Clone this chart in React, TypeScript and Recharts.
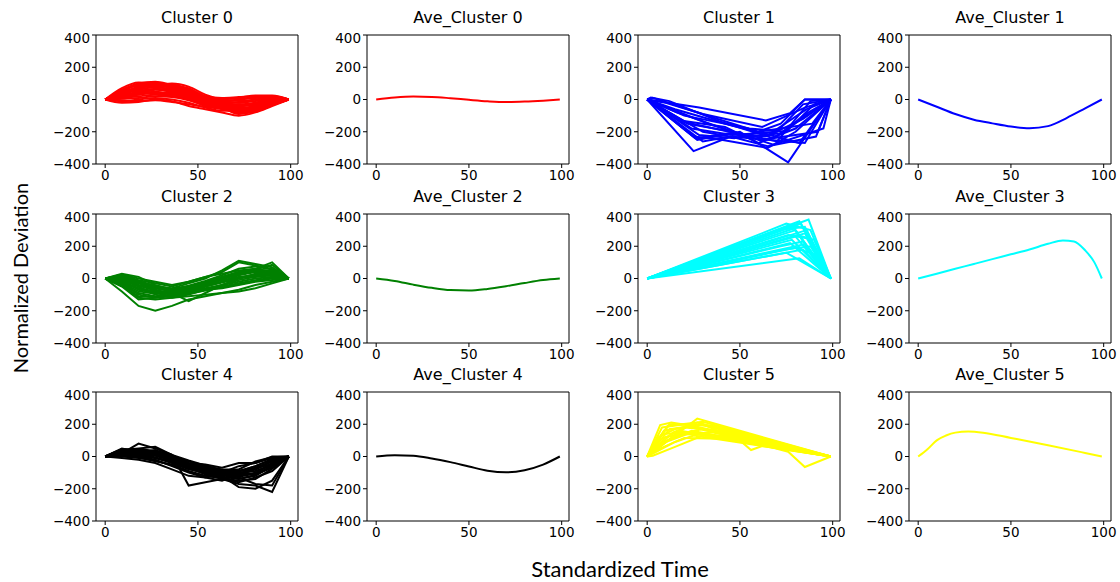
import React from "react";
import { LineChart, Line, XAxis, YAxis, ReferenceArea } from "recharts";

// shared x grid for the wavy clusters
const X_GRID = [0, 9, 18, 27, 36, 45, 54, 63, 72, 81, 90, 99];
const AVE_X = [0, 10, 20, 30, 40, 50, 60, 70, 80, 90, 99];
const Y_TICKS = [-400, -200, 0, 200, 400];
const X_TICKS = [0, 50, 100];

const CLUSTER0_LINES = [
  [0, 60, 100, 110, 90, 70, 20, 10, 15, 20, 20, 0],
  [0, 40, 80, 100, 95, 60, 10, -10, 0, 10, 15, 0],
  [0, -20, -15, 0, -10, -40, -60, -80, -100, -80, -40, 0],
  [0, 20, 40, 60, 50, 20, -20, -40, -60, -40, -10, 0],
  [0, 50, 90, 80, 60, 40, 0, -20, -30, -20, 0, 0],
  [0, 10, 20, 30, 20, 0, -40, -60, -80, -60, -20, 0],
  [0, 70, 105, 100, 70, 45, 5, 0, 10, 25, 25, 0],
  [0, 30, 60, 50, 30, 10, -30, -50, -90, -70, -30, 0],
  [0, -10, 0, 10, 0, -20, -50, -70, -60, -40, -20, 0],
  [0, 45, 70, 90, 100, 80, 30, 0, -10, 0, 10, 0],
  [0, 35, 55, 40, 20, 5, -15, -30, -40, -30, -10, 0],
  [0, 55, 85, 70, 45, 25, -10, -25, -50, -55, -25, 0],
  [0, -5, -10, -5, -15, -30, -45, -55, -70, -65, -30, 0],
  [0, 25, 45, 35, 25, 0, -30, -45, -45, -20, 5, 0],
  [0, 30, 70, 90, 80, 55, 15, -15, -40, -35, -10, 0],
  [0, 15, 35, 45, 40, 15, -25, -45, -70, -50, -15, 0],
  [0, 50, 95, 105, 85, 50, 0, -15, -20, 0, 15, 0],
  [0, 5, 10, 20, 15, -5, -35, -55, -75, -70, -35, 0],
  [0, 40, 65, 75, 65, 35, -5, -30, -55, -45, -20, 0],
  [0, 60, 90, 95, 75, 55, 15, -5, -20, -10, 5, 0],
  [0, 20, 50, 65, 55, 30, -10, -35, -65, -60, -25, 0],
  [0, 35, 80, 95, 90, 65, 20, 5, 5, 15, 20, 0],
  [0, 10, 30, 40, 35, 10, -25, -40, -85, -75, -35, 0],
  [0, 45, 75, 85, 70, 40, 5, -20, -35, -25, -5, 0],
];

const CLUSTER1_LINES = [
  [[0, 0], [25, -320], [45, -230], [85, -270], [99, 0]],
  [[0, 0], [27, -250], [50, -200], [76, -390], [99, 0]],
  [[0, 0], [28, -50], [64, -130], [77, -85], [85, 0], [99, 0]],
  [[0, 0], [10, -20], [30, -90], [62, -170], [85, -50], [99, 0]],
  [[0, 0], [30, -260], [45, -230], [65, -290], [91, -230], [99, 0]],
  [[0, 0], [22, -150], [46, -200], [70, -260], [88, -10], [99, 0]],
  [[0, 0], [3, 10], [35, -110], [60, -200], [82, -270], [99, 0]],
  [[0, 0], [25, -230], [40, -250], [65, -300], [80, -200], [99, 0]],
  [[0, 0], [20, -100], [55, -180], [75, -200], [90, -30], [99, 0]],
  [[0, 0], [2, 12], [12, -10], [40, -140], [68, -240], [86, -100], [99, 0]],
  [[0, 0], [30, -200], [50, -240], [72, -150], [85, 0], [99, 0]],
  [[0, 0], [18, -130], [42, -170], [60, -270], [80, -180], [99, 0]],
  [[0, 0], [26, -240], [44, -210], [62, -250], [92, -200], [99, 0]],
  [[0, 0], [15, -60], [45, -160], [66, -220], [84, -120], [99, 0]],
  [[0, 0], [20, -140], [48, -210], [64, -230], [86, -60], [99, 0]],
  [[0, 0], [24, -180], [46, -220], [70, -200], [84, -30], [99, 0]],
  [[0, 0], [28, -220], [47, -240], [60, -200], [89, -150], [99, 0]],
  [[0, 0], [16, -80], [44, -190], [68, -280], [95, -180], [99, 0]],
  [[0, 0], [33, -150], [54, -230], [72, -210], [87, -80], [99, 0]],
];

const CLUSTER2_LINES = [
  [0, 20, -10, -30, -50, -20, 10, 40, 100, 80, 60, 0],
  [0, -80, -170, -200, -170, -130, -110, -90, -70, -40, -20, 0],
  [0, 30, 10, -40, -70, -50, -20, 10, 40, 60, 100, 0],
  [0, -40, -120, -130, -120, -110, -100, -90, -80, -60, -30, 0],
  [0, -20, -60, -80, -90, -140, -90, -40, 0, 30, 40, 0],
  [0, 10, -30, -60, -80, -60, -30, 0, 30, 50, 50, 0],
  [0, -10, -50, -100, -120, -100, -70, -40, -10, 10, 20, 0],
  [0, 15, -20, -50, -60, -30, 0, 50, 110, 90, 70, 0],
  [0, -30, -90, -110, -100, -80, -60, -40, -20, 0, 10, 0],
  [0, 25, 0, -20, -40, -20, 10, 30, 50, 60, 40, 0],
  [0, -50, -130, -120, -100, -90, -70, -60, -40, -20, -10, 0],
  [0, 5, -40, -70, -100, -90, -50, -20, 20, 40, 30, 0],
  [0, -15, -70, -90, -110, -70, -40, -10, 10, 20, 15, 0],
  [0, -5, -40, -60, -75, -55, -25, 10, 40, 55, 45, 0],
  [0, -25, -80, -95, -90, -70, -45, -20, 5, 25, 20, 0],
  [0, 20, -15, -45, -65, -45, -15, 20, 60, 75, 55, 0],
  [0, -35, -100, -120, -110, -95, -75, -55, -35, -15, 0, 0],
  [0, 10, -25, -55, -70, -50, -20, 5, 35, 55, 85, 0],
  [0, -20, -60, -85, -95, -75, -50, -25, 0, 15, 25, 0],
  [0, 0, -45, -75, -85, -65, -35, -5, 25, 45, 35, 0],
  [0, -45, -110, -115, -105, -85, -65, -50, -30, -10, 5, 0],
];

const CLUSTER3_LINES = [
  [[0, 0], [87, 365], [99, 0]],
  [[0, 0], [82, 355], [99, 0]],
  [[0, 0], [75, 340], [88, 300], [99, 0]],
  [[0, 0], [70, 300], [85, 320], [99, 0]],
  [[0, 0], [80, 300], [99, 0]],
  [[0, 0], [76, 270], [86, 250], [99, 0]],
  [[0, 0], [78, 240], [99, 0]],
  [[0, 0], [72, 200], [84, 230], [99, 0]],
  [[0, 0], [84, 210], [99, 0]],
  [[0, 0], [75, 160], [99, 0]],
  [[0, 0], [82, 125], [99, 0]],
  [[0, 0], [80, 190], [90, 150], [99, 0]],
  [[0, 0], [85, 280], [99, 0]],
  [[0, 0], [78, 330], [99, 0]],
  [[0, 0], [80, 260], [99, 0]],
  [[0, 0], [83, 340], [99, 0]],
  [[0, 0], [77, 220], [99, 0]],
  [[0, 0], [86, 300], [99, 0]],
  [[0, 0], [74, 180], [88, 200], [99, 0]],
  [[0, 0], [81, 270], [90, 240], [99, 0]],
  [[0, 0], [79, 310], [99, 0]],
  [[0, 0], [84, 180], [99, 0]],
];

const CLUSTER4_LINES = [
  [0, 45, 40, 30, 0, -40, -50, -70, -40, -40, -10, 0],
  [0, 20, 80, 50, 10, -180, -160, -140, -170, -180, -220, 0],
  [0, 30, 20, 40, 0, -60, -90, -120, -190, -200, -150, 0],
  [0, 10, 0, -20, -60, -100, -130, -150, -110, -80, -30, 0],
  [0, 40, 50, 60, 10, -50, -70, -100, -130, -170, -180, 0],
  [0, 20, 10, -10, -40, -80, -100, -120, -90, -60, -20, 0],
  [0, 50, 30, 10, -20, -60, -80, -100, -60, -40, 0, 0],
  [0, -10, -20, -40, -80, -120, -130, -110, -140, -120, -60, 0],
  [0, 35, 25, 20, -10, -40, -60, -80, -80, -30, -5, 0],
  [0, 15, 5, -10, -30, -70, -110, -140, -160, -130, -90, 0],
  [0, 25, 30, 25, 5, -30, -70, -90, -100, -110, -70, 0],
  [0, 5, -5, -30, -50, -90, -120, -130, -120, -100, -50, 0],
  [0, 30, 35, 20, -5, -45, -70, -95, -100, -90, -50, 0],
  [0, 20, 15, 5, -25, -65, -95, -115, -125, -105, -40, 0],
  [0, 40, 30, 15, -15, -55, -75, -105, -115, -80, -25, 0],
  [0, 10, 10, -5, -35, -75, -105, -125, -140, -115, -55, 0],
  [0, 45, 35, 25, -5, -45, -65, -90, -95, -60, -15, 0],
  [0, 25, 20, 10, -20, -60, -85, -110, -105, -70, -30, 0],
  [0, 0, -10, -25, -55, -95, -120, -135, -150, -140, -75, 0],
  [0, 35, 45, 35, 10, -25, -55, -85, -90, -75, -45, 0],
];

const CLUSTER5_LINES = [
  [[0, 0], [7, 195], [13, 210], [25, 190], [99, 0]],
  [[0, 0], [27, 235], [99, 0]],
  [[0, 0], [5, 40], [20, 115], [40, 110], [99, 0]],
  [[0, 0], [12, 170], [30, 200], [50, 100], [56, 40], [62, 65], [99, 0]],
  [[0, 0], [8, 180], [20, 200], [76, 30], [85, -65], [99, 0]],
  [[0, 0], [15, 90], [25, 130], [99, 0]],
  [[0, 0], [10, 120], [30, 170], [99, 0]],
  [[0, 0], [6, 100], [18, 160], [99, 0]],
  [[0, 0], [3, 5], [15, 60], [30, 130], [99, 0]],
  [[0, 0], [12, 200], [35, 190], [99, 0]],
  [[0, 0], [20, 180], [40, 160], [99, 0]],
  [[0, 0], [8, 140], [25, 150], [99, 0]],
  [[0, 0], [9, 160], [22, 185], [99, 0]],
  [[0, 0], [6, 120], [15, 170], [28, 200], [99, 0]],
  [[0, 0], [10, 90], [22, 140], [35, 150], [99, 0]],
  [[0, 0], [14, 150], [27, 210], [99, 0]],
  [[0, 0], [4, 60], [18, 140], [45, 125], [99, 0]],
  [[0, 0], [11, 190], [30, 215], [99, 0]],
  [[0, 0], [7, 80], [24, 160], [99, 0]],
];

const AVE0 = [0, 12, 18, 16, 8, -2, -11, -16, -13, -7, 0];
const AVE1 = [0, -45, -90, -125, -148, -168, -178, -165, -115, -55, 0];
const AVE2 = [0, -15, -38, -58, -72, -75, -65, -48, -28, -10, 0];
const AVE3 = [[0, 0], [10, 30], [20, 60], [30, 90], [40, 120], [50, 150], [60, 180], [70, 215], [78, 236], [84, 230], [90, 175], [95, 100], [99, 0]];
const AVE4 = [0, 8, 5, -12, -35, -62, -88, -98, -85, -50, 0];
const AVE5 = [[0, 0], [5, 45], [10, 100], [15, 130], [20, 148], [27, 155], [35, 148], [50, 115], [70, 70], [90, 22], [99, 0]];

const gridPts = (xs: number[], ys: number[]) => xs.map((x, i) => ({ x, y: ys[i] }));
const pairPts = (pairs: number[][]) => pairs.map(([x, y]) => ({ x, y }));

const COL_LEFT = [96, 367, 638, 909];
const ROW_TOP = [35, 213.5, 392];
const BOX_W = 202;
const BOX_H = 129;
const AXIS_W = 62;

const FONT = "'DejaVu Sans', sans-serif";
const minus = (v: number) => String(v).replace("-", "\u2212");

type PanelProps = {
  title: string;
  color: string;
  series: { x: number; y: number }[][];
  curve: "linear" | "monotone";
  left: number;
  top: number;
};

function Panel({ title, color, series, curve, left, top }: PanelProps) {
  return (
    <div style={{ position: "absolute", left: left - AXIS_W, top: top - 5 }}>
      <div
        style={{
          position: "absolute",
          left: AXIS_W,
          width: BOX_W,
          top: -22,
          textAlign: "center",
          fontSize: 16,
          lineHeight: "19px",
          fontFamily: FONT,
        }}
      >
        {title}
      </div>
      <LineChart width={AXIS_W + BOX_W + 6} height={5 + BOX_H + 28} margin={{ top: 5, right: 6, left: 0, bottom: 0 }}>
        <XAxis
          type="number"
          dataKey="x"
          domain={[-4.95, 103.95]}
          ticks={X_TICKS}
          allowDataOverflow
          axisLine={false}
          tickSize={4}
          tickMargin={2}
          height={28}
          tickLine={{ stroke: "#000" }}
          tick={{ fontSize: 13.5, fill: "#000", fontFamily: FONT }}
        />
        <YAxis
          type="number"
          domain={[-400, 400]}
          ticks={Y_TICKS}
          allowDataOverflow
          axisLine={false}
          tickSize={4}
          tickMargin={2}
          width={AXIS_W}
          tickLine={{ stroke: "#000" }}
          tickFormatter={minus}
          tick={{ fontSize: 13.5, fill: "#000", fontFamily: FONT }}
        />
        <ReferenceArea
          x1={-4.95}
          x2={103.95}
          y1={-400}
          y2={400}
          fill="none"
          fillOpacity={0}
          stroke="#000"
          strokeWidth={1}
          ifOverflow="visible"
        />
        {series.map((pts, i) => (
          <Line
            key={i}
            data={pts}
            dataKey="y"
            type={curve}
            stroke={color}
            strokeWidth={2}
            dot={false}
            activeDot={false}
            isAnimationActive={false}
          />
        ))}
      </LineChart>
    </div>
  );
}

export default function App() {
  const panels = [
    { title: "Cluster 0", color: "#ff0000", series: CLUSTER0_LINES.map((l) => gridPts(X_GRID, l)), curve: "monotone" as const },
    { title: "Ave_Cluster 0", color: "#ff0000", series: [gridPts(AVE_X, AVE0)], curve: "monotone" as const },
    { title: "Cluster 1", color: "#0000ff", series: CLUSTER1_LINES.map(pairPts), curve: "linear" as const },
    { title: "Ave_Cluster 1", color: "#0000ff", series: [gridPts(AVE_X, AVE1)], curve: "monotone" as const },
    { title: "Cluster 2", color: "#008000", series: CLUSTER2_LINES.map((l) => gridPts(X_GRID, l)), curve: "linear" as const },
    { title: "Ave_Cluster 2", color: "#008000", series: [gridPts(AVE_X, AVE2)], curve: "monotone" as const },
    { title: "Cluster 3", color: "#00ffff", series: CLUSTER3_LINES.map(pairPts), curve: "linear" as const },
    { title: "Ave_Cluster 3", color: "#00ffff", series: [pairPts(AVE3)], curve: "monotone" as const },
    { title: "Cluster 4", color: "#000000", series: CLUSTER4_LINES.map((l) => gridPts(X_GRID, l)), curve: "linear" as const },
    { title: "Ave_Cluster 4", color: "#000000", series: [gridPts(AVE_X, AVE4)], curve: "monotone" as const },
    { title: "Cluster 5", color: "#ffff00", series: CLUSTER5_LINES.map(pairPts), curve: "linear" as const },
    { title: "Ave_Cluster 5", color: "#ffff00", series: [pairPts(AVE5)], curve: "monotone" as const },
  ];

  return (
    <div style={{ position: "absolute", left: 0, top: 0, width: 1120, height: 582, background: "#fff", overflow: "hidden" }}>
      {panels.map((p, i) => (
        <Panel key={p.title} {...p} left={COL_LEFT[i % 4]} top={ROW_TOP[Math.floor(i / 4)]} />
      ))}

      {/* shared axis labels */}
      <div
        style={{
          position: "absolute",
          left: 20,
          top: 278,
          transform: "translate(-50%, -50%) rotate(-90deg)",
          whiteSpace: "nowrap",
          fontSize: 20,
          lineHeight: "24px",
          fontFamily: "Lato, sans-serif",
        }}
      >
        Normalized Deviation
      </div>
      <div
        style={{
          position: "absolute",
          left: 620,
          top: 569,
          transform: "translate(-50%, -50%)",
          whiteSpace: "nowrap",
          fontSize: 22,
          lineHeight: "24px",
          fontFamily: "Lato, sans-serif",
        }}
      >
        Standardized Time
      </div>
    </div>
  );
}
